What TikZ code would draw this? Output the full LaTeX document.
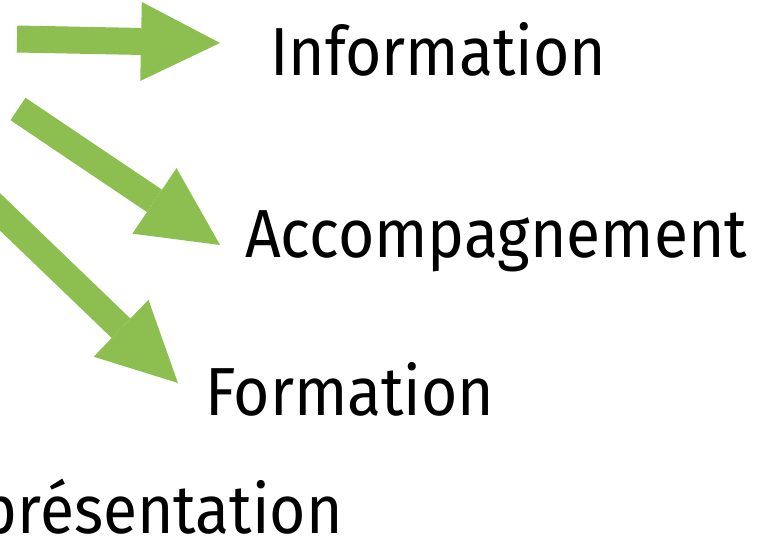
\documentclass[tikz,border=0pt]{standalone}
\usepackage{fontspec}
\setmainfont{Fira Sans}[FakeStretch=0.917]
\usetikzlibrary{arrows.meta}
\definecolor{arrowgreen}{HTML}{8DBF50}
\tikzset{
  bigarrow/.style={draw=arrowgreen, line width=27pt,
    -{Triangle[length=79pt,width=79pt,line width=0pt]}},
  label/.style={anchor=base west, inner sep=0pt, font=\fontsize{68}{80}\selectfont, text=black}
}
\begin{document}
\begin{tikzpicture}[x=1pt,y=-1pt]
\useasboundingbox (0,0) rectangle (781,555);
\coordinate (s1) at (17,39);
\coordinate (t1) at (220,43);
\coordinate (s2) at (18,109);
\coordinate (t2) at (220,245);
\coordinate (s3) at (-30,183);
\coordinate (t3) at (178,383);
\draw[bigarrow] (s1) -- (t1);
\draw[bigarrow] (s2) -- (t2);
\draw[bigarrow] (s3) -- (t3);
\node[label] (info) at (270,75) {Information};
\node[label] (acc) at (245,257) {Accompagnement};
\node[label] (form) at (205,415) {Formation};
\node[label, anchor=base east] (pres) at (343,533) {présentation};
\end{tikzpicture}
\end{document}
